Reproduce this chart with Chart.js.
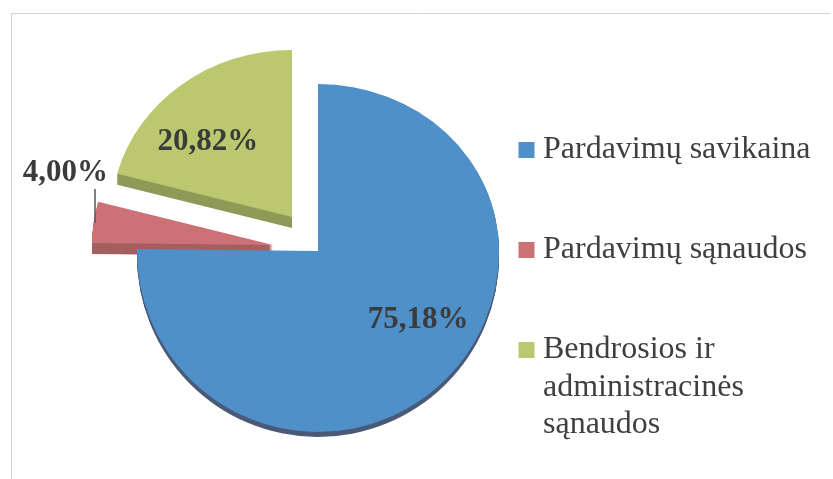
<!DOCTYPE html>
<html>
<head>
<meta charset="utf-8">
<style>
html, body { margin: 0; padding: 0; background: #fff; }
#wrap { position: relative; width: 833px; height: 479px; }
</style>
<script src="https://cdn.jsdelivr.net/npm/chart.js@4"></script>
</head>
<body>
<div id="wrap"><canvas id="mycanvas" width="833" height="479"></canvas></div>
<script>
var categories = ['Pardavimų savikaina', 'Pardavimų sąnaudos', ['Bendrosios ir', 'administracinės', 'sąnaudos']];
var shares = [75.18, 4.00, 20.82];
var shareLabels = ['75,18%', '4,00%', '20,82%'];

var faceColors = ['#4f90c9', '#cc7277', '#bcc86f'];
var sideColors = ['#4a5a78', '#a55f60', '#8f9a58'];
var depths = [5, 11, 11];
var explode = [0, 45, 43];
// label position relative to the apex of its slice
var labelShift = [[100, 69], [-208, -72], [-84, -75]];
var TOP_SQUASH = 0.923;

function drawFace(ctx, arc, ox, oy) {
	[true, false].forEach(function(upper) {
		ctx.save();
		ctx.translate(arc.x + ox, arc.y + oy);
		ctx.beginPath();
		ctx.rect(-400, upper ? -300 : 0, 800, 300);
		ctx.clip();
		ctx.scale(1, upper ? TOP_SQUASH : 1);
		ctx.translate(-arc.x, -arc.y);
		arc.draw(ctx);
		ctx.restore();
	});
}

var piePlugin = {
	id: 'tiltedPie',
	afterLayout: function(chart) {
		// pie centre and legend place
		chart.chartArea = {left: 116, right: 520, top: 23, bottom: 479, width: 404, height: 456};
		var legend = chart.legend;
		legend.left = 458;
		legend.top = 66;
	},
	beforeDatasetsDraw: function(chart) {
		var ctx = chart.ctx;
		var arcs = chart.getDatasetMeta(0).data;
		for (var i = arcs.length - 1; i >= 0; i--) {
			var arc = arcs[i];
			var mid = (arc.startAngle + arc.endAngle) / 2;
			var ox = Math.round(Math.cos(mid) * explode[i]);
			var oy = Math.round(Math.sin(mid) * explode[i]);
			var side = Object.create(arc);
			side.options = {backgroundColor: sideColors[i], borderWidth: 0, borderAlign: 'center', offset: 0, spacing: 0, circular: true, borderRadius: 0};
			for (var d = depths[i]; d > 0; d--) {
				drawFace(ctx, side, ox, oy + d);
			}
			drawFace(ctx, arc, ox, oy);
		}
		return false;
	},
	afterDraw: function(chart) {
		var ctx = chart.ctx;
		var arcs = chart.getDatasetMeta(0).data;
		ctx.save();
		// frame of the scan
		ctx.strokeStyle = '#d2d2d2';
		ctx.lineWidth = 1;
		ctx.beginPath();
		ctx.moveTo(11.5, 479);
		ctx.lineTo(11.5, 13.5);
		ctx.lineTo(830, 13.5);
		ctx.stroke();
		// leader of the small slice
		ctx.strokeStyle = '#555';
		ctx.lineWidth = 1.5;
		ctx.beginPath();
		ctx.moveTo(95, 189);
		ctx.lineTo(95, 223);
		ctx.stroke();
		ctx.fillStyle = '#3b3b3b';
		ctx.font = 'bold 31px "Liberation Serif"';
		ctx.textAlign = 'center';
		ctx.textBaseline = 'middle';
		for (var i = 0; i < arcs.length; i++) {
			var mid = (arcs[i].startAngle + arcs[i].endAngle) / 2;
			ctx.fillText(shareLabels[i],
				arcs[i].x + Math.cos(mid) * explode[i] + labelShift[i][0],
				arcs[i].y + Math.sin(mid) * explode[i] + labelShift[i][1]);
		}
		ctx.restore();
	}
};

var chartdata = {
	labels: categories,
	datasets: [{
		data: shares,
		backgroundColor: faceColors,
		borderWidth: 0
	}]
};

var barGraph = new Chart(document.getElementById('mycanvas'), {
	type: 'pie',
	data: chartdata,
	plugins: [piePlugin],
	options: {
		responsive: false,
		animation: false,
		radius: 181,
		plugins: {
			tooltip: {enabled: false},
			legend: {
				position: 'right',
				align: 'start',
				labels: {
					// tiny box with a thick stroke: gives a 16px square close to the text
					boxWidth: 1,
					boxHeight: 1,
					padding: 68,
					color: '#3f3f3f',
					font: {family: '"Liberation Serif"', size: 32, lineHeight: 1.17},
					generateLabels: function(chart) {
						var items = Chart.overrides.pie.plugins.legend.labels.generateLabels(chart);
						items.forEach(function(item) {
							item.strokeStyle = item.fillStyle;
							item.lineWidth = 15;
						});
						return items;
					}
				}
			}
		}
	}
});
</script>
</body>
</html>
